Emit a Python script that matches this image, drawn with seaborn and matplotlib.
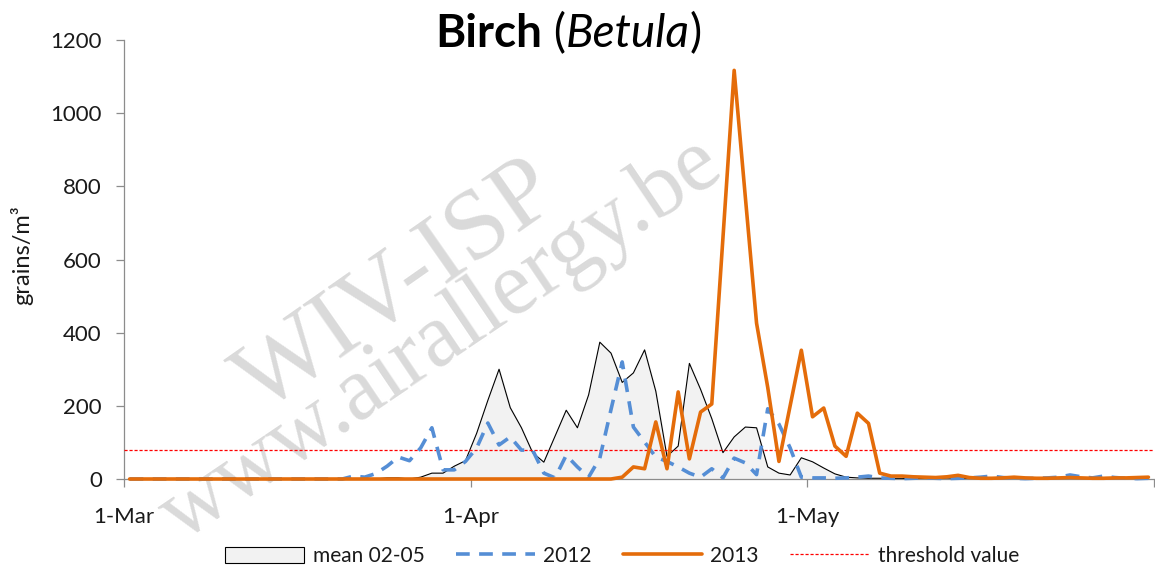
import numpy as np
import pandas as pd
import seaborn as sns
import matplotlib.pyplot as plt
from matplotlib.lines import Line2D
from matplotlib.patches import Patch

# Daily birch pollen counts, 1 March - 31 May (grains/m3)
days = np.arange(92)

mean_0205 = [0, 0, 0, 0, 0, 0, 0, 0, 0, 0, 0, 0, 0, 0, 0, 0, 0, 0, 0, 0,
             0, 0, 0, 3, 3, 0, 5, 16, 16, 35, 50, 125, 215, 300, 195, 140,
             72, 46, 117, 188, 140, 230, 374, 344, 264, 290, 353, 240, 62,
             90, 316, 245, 165, 72, 115, 142, 140, 33, 16, 11, 58, 47, 30,
             14, 5, 3, 2, 2, 1, 1, 2, 1, 1, 0, 1, 2, 1, 0, 0, 1, 1, 0, 0,
             1, 0, 0, 1, 0, 0, 1, 0, 0]

y2012 = [0, 0, 0, 0, 0, 0, 0, 0, 0, 0, 0, 0, 0, 0, 0, 0, 0, 0, 0, 0,
         8, 5, 15, 35, 60, 50, 85, 140, 25, 25, 48, 85, 153, 93, 115, 79,
         79, 16, 3, 65, 33, 5, 57, 190, 320, 142, 101, 60, 48, 33, 16, 5,
         28, 3, 57, 44, 12, 192, 150, 85, 5, 3, 3, 2, 3, 5, 8, 3, 2, 1,
         2, 3, 2, 1, 2, 3, 5, 8, 4, 2, 1, 2, 3, 5, 11, 6, 3, 8, 4, 2, 1, 2]

y2013 = [0, 0, 0, 0, 0, 0, 0, 0, 0, 0, 0, 0, 0, 0, 0, 0, 0, 0, 0, 0,
         0, 0, 0, 0, 0, 0, 0, 0, 0, 0, 0, 0, 0, 0, 0, 0, 0, 0, 0, 0,
         0, 0, 0, 0, 5, 33, 28, 156, 28, 238, 55, 183, 205, 660, 1117, 770,
         426, 250, 48, 200, 352, 170, 194, 90, 62, 180, 152, 16, 8, 8, 6, 5,
         4, 6, 10, 4, 2, 2, 3, 5, 3, 2, 2, 3, 4, 3, 2, 2, 3, 3, 4, 5]

threshold = 80

tick_days = [0, 31, 61, 92]
tick_labels = ['1-Mar', '1-Apr', '1-May', '']
y_ticks = [0, 200, 400, 600, 800, 1000, 1200]

df = pd.DataFrame({'day': days + 0.5, 'mean': mean_0205,
                   '2012': y2012, '2013': y2013})
long_df = df.melt(id_vars='day', value_vars=['2012', '2013'],
                  var_name='series', value_name='grains')

sns.set_theme(style='white')
plt.rcParams['font.family'] = ['Lato', 'DejaVu Sans']

orange = '#E46C0A'
blue = '#558ED5'

fig = plt.figure(figsize=(11.55, 5.72), dpi=100)
ax = fig.add_axes([124 / 1155, 93 / 572, 1030 / 1155, 439 / 572])
ax.patch.set_alpha(0)

# watermark
fig.text(0.345, 0.497, 'WIV-ISP', fontsize=72, family='Liberation Serif',
         color='#dadada', rotation=35, ha='center', va='center', zorder=-5)
fig.text(0.382, 0.405, 'www.airallergy.be', fontsize=65, family='Liberation Serif',
         color='#dadada', rotation=34, ha='center', va='center', zorder=-5)

# mean 02-05 as area
ax.fill_between(df['day'], df['mean'], color='#F2F2F2', zorder=1)
sns.lineplot(data=df, x='day', y='mean', color='black', linewidth=0.8, ax=ax, zorder=2)

ax.axhline(threshold, color='red', linewidth=0.9, linestyle=(0, (2.5, 1.5)), zorder=3)

sns.lineplot(data=long_df, x='day', y='grains', hue='series', style='series',
             palette={'2012': blue, '2013': orange},
             dashes={'2012': (3.8, 2.6), '2013': ''},
             linewidth=2.6, legend=False, ax=ax, zorder=4, clip_on=False)

ax.set_xlim(0, 92)
ax.set_ylim(0, 1200)
ax.set_xticks(tick_days)
ax.set_xticklabels(tick_labels)
ax.set_yticks(y_ticks)
ax.set_xlabel('')
ax.set_ylabel('')

for s in ['top', 'right']:
    ax.spines[s].set_visible(False)
for s in ['left', 'bottom']:
    ax.spines[s].set_color('#8c8c8c')
    ax.spines[s].set_linewidth(0.9)

ax.tick_params(axis='both', bottom=True, left=True, direction='out', length=6,
               width=0.9, color='#8c8c8c', labelsize=16, labelcolor='#1a1a1a')
ax.tick_params(axis='x', pad=14)
ax.tick_params(axis='y', pad=10)

fig.text(22 / 1155, 1 - 255 / 572, 'grains/m³', rotation=90, fontsize=17,
         ha='center', va='center', color='#1a1a1a')

# title: bold "Birch" with italic genus
renderer = fig.canvas.get_renderer()
x = 435 / 1155
for txt, kw in [('Birch', dict(weight='bold')), (' (', {}),
                ('Betula', dict(style='italic')), (')', {})]:
    t = fig.text(x, 1 - 47 / 572, txt, fontsize=33, ha='left', va='baseline',
                 color='black', **kw)
    x = t.get_window_extent(renderer).x1 / fig.bbox.width

handles = [Patch(facecolor='#F2F2F2', edgecolor='black', linewidth=0.8),
           Line2D([], [], color=blue, linewidth=2.6, dashes=(3.8, 2.6)),
           Line2D([], [], color=orange, linewidth=2.6),
           Line2D([], [], color='red', linewidth=0.9, linestyle=(0, (2.5, 1.5)))]
labels = ['mean 02-05', '2012', '2013', 'threshold value']
fig.legend(handles, labels, loc='center', bbox_to_anchor=(622 / 1155, 1 - 556 / 572),
           ncol=4, frameon=False, fontsize=15, handlelength=3.8, handleheight=0.8,
           handletextpad=0.4, columnspacing=1.5, labelcolor='#1a1a1a')

fig.savefig('out.png', dpi=100)
